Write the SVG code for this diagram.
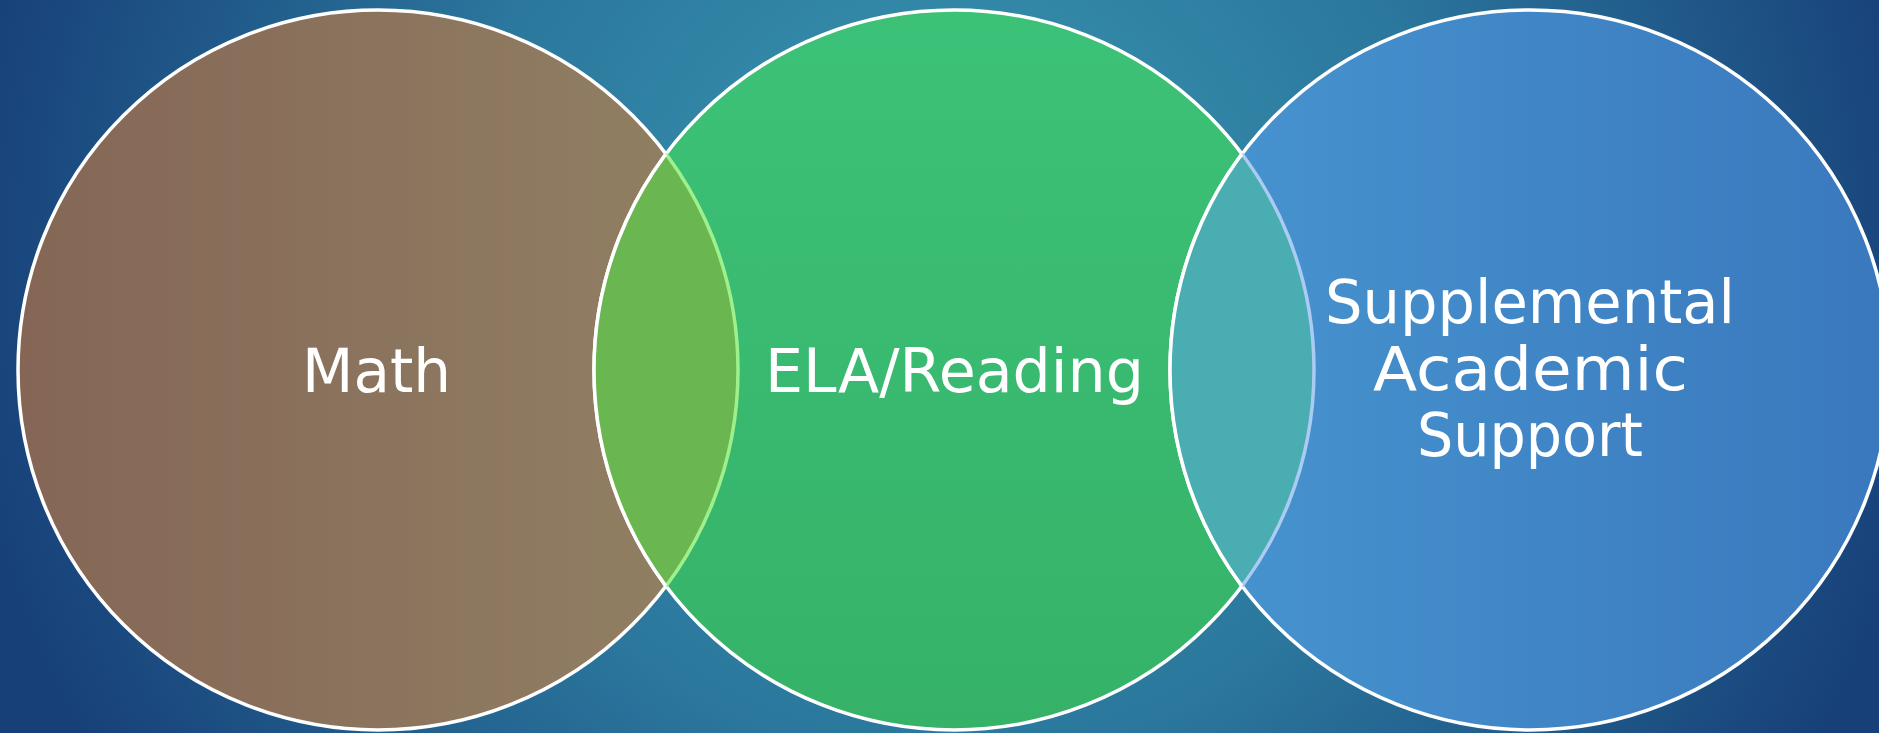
<svg xmlns="http://www.w3.org/2000/svg" width="1879" height="733" viewBox="0 0 1879 733">
  <style>
    .label { font-family: "DejaVu Sans", "Liberation Sans", sans-serif; font-size: 60px; fill: #ffffff; text-anchor: start; }
    .ring { fill: none; stroke: #ffffff; stroke-width: 3.5; }
  </style>
  <defs>
    <radialGradient id="bg" gradientUnits="userSpaceOnUse" cx="950" cy="260" r="1000">
      <stop offset="0" stop-color="#3a97b0"/>
      <stop offset="0.5" stop-color="#2b779d"/>
      <stop offset="1" stop-color="#173f78"/>
    </radialGradient>
    <linearGradient id="gMath" x1="0" y1="0" x2="1" y2="0">
      <stop offset="0" stop-color="#856656"/>
      <stop offset="1" stop-color="#918164"/>
    </linearGradient>
    <linearGradient id="gEla" x1="0" y1="0" x2="0" y2="1">
      <stop offset="0" stop-color="#3cc278"/>
      <stop offset="1" stop-color="#35b268"/>
    </linearGradient>
    <linearGradient id="gSup" x1="0" y1="0" x2="1" y2="0">
      <stop offset="0" stop-color="#4795d0"/>
      <stop offset="1" stop-color="#3a78bd"/>
    </linearGradient>
    <clipPath id="cMath"><circle cx="378" cy="370" r="360"/></clipPath>
    <clipPath id="cEla"><circle cx="954" cy="370" r="360"/></clipPath>
    <clipPath id="cSup"><circle cx="1530" cy="370" r="360"/></clipPath>
  </defs>

  <rect x="0" y="0" width="1879" height="733" fill="url(#bg)"/>

  <g id="node-math">
    <circle cx="378" cy="370" r="360" fill="url(#gMath)" stroke="#ffffff" stroke-width="3.5"/>
  </g>

  <g id="node-ela">
    <circle cx="954" cy="370" r="360" fill="url(#gEla)" stroke="#ffffff" stroke-width="3.5"/>
  </g>

  <g id="overlap-math-ela">
    <circle cx="954" cy="370" r="360" fill="#6ab752" clip-path="url(#cMath)"/>
    <circle cx="378" cy="370" r="360" fill="none" stroke="#9ef08c" stroke-width="3.5" clip-path="url(#cEla)"/>
    <circle class="ring" cx="954" cy="370" r="360" clip-path="url(#cMath)"/>
  </g>

  <g id="node-support">
    <circle cx="1530" cy="370" r="360" fill="url(#gSup)" stroke="#ffffff" stroke-width="3.5"/>
  </g>

  <g id="overlap-ela-support">
    <circle cx="1530" cy="370" r="360" fill="#4aadb1" clip-path="url(#cEla)"/>
    <circle cx="954" cy="370" r="360" fill="none" stroke="#aacbf2" stroke-width="3.5" clip-path="url(#cSup)"/>
    <circle class="ring" cx="1530" cy="370" r="360" clip-path="url(#cEla)"/>
  </g>

  <g id="labels">
    <text id="label-math" class="label" x="302" y="392" textLength="149" lengthAdjust="spacingAndGlyphs">Math</text>
    <text id="label-ela" class="label" x="765" y="392" textLength="379" lengthAdjust="spacingAndGlyphs">ELA/Reading</text>
    <text id="label-support-1" class="label" x="1325" y="323" textLength="410" lengthAdjust="spacingAndGlyphs">Supplemental</text>
    <text id="label-support-2" class="label" x="1373" y="390" textLength="315" lengthAdjust="spacingAndGlyphs">Academic</text>
    <text id="label-support-3" class="label" x="1417" y="456" textLength="226" lengthAdjust="spacingAndGlyphs">Support</text>
  </g>

  <g id="connectors"></g>
</svg>
